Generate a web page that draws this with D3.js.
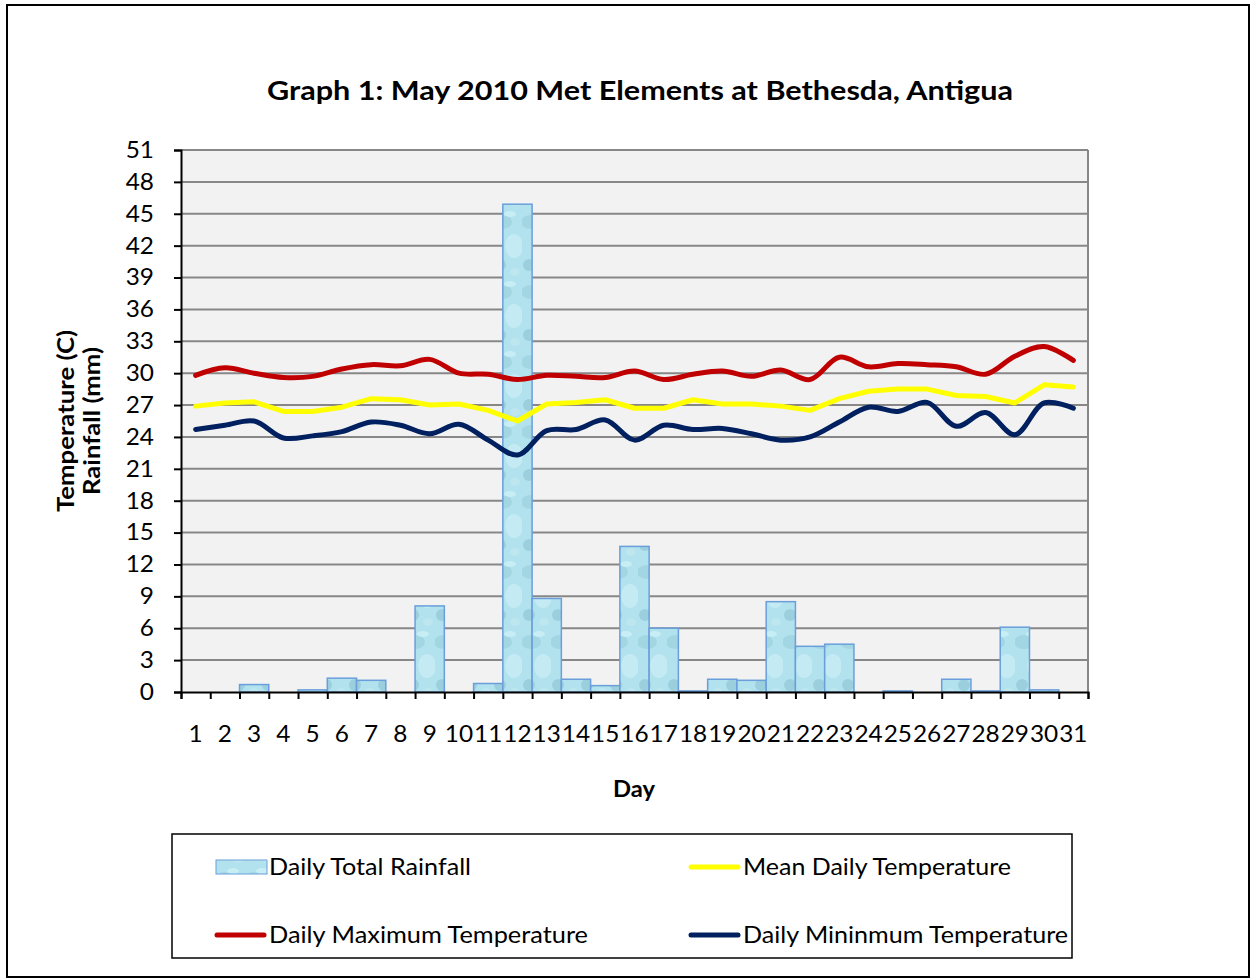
<!DOCTYPE html>
<html>
<head>
<meta charset="utf-8">
<script src="https://cdn.jsdelivr.net/npm/d3@7"></script>
<style>
  body { margin: 0; background: #fff; }
  text { font-family: Lato, "Open Sans", sans-serif; fill: #000; }
</style>
</head>
<body>
<div id="viz"></div>
<script>
const days = [1,2,3,4,5,6,7,8,9,10,11,12,13,14,15,16,17,18,19,20,21,22,23,24,25,26,27,28,29,30,31];

const rainfall = [0,0,0.7,0,0.2,1.3,1.1,0,8.1,0,0.8,45.9,8.8,1.2,0.6,13.7,6.0,0.1,1.2,1.1,8.5,4.3,4.5,0,0.1,0,1.2,0.1,6.1,0.2,0];

const maxTemp = [29.8,30.5,30.0,29.6,29.7,30.4,30.8,30.7,31.3,30.0,29.9,29.4,29.8,29.7,29.6,30.2,29.4,29.9,30.2,29.7,30.3,29.4,31.5,30.6,30.9,30.8,30.6,29.9,31.6,32.5,31.2];

const meanTemp = [26.9,27.2,27.3,26.4,26.4,26.8,27.6,27.5,27.0,27.1,26.5,25.5,27.1,27.25,27.5,26.7,26.7,27.5,27.1,27.1,26.9,26.5,27.6,28.3,28.5,28.5,27.9,27.8,27.2,28.9,28.7];

const minTemp = [24.7,25.1,25.5,23.9,24.1,24.5,25.4,25.1,24.3,25.2,23.7,22.3,24.6,24.7,25.6,23.7,25.1,24.7,24.8,24.3,23.7,24.0,25.4,26.8,26.4,27.25,25.0,26.3,24.2,27.2,26.7];

const yTicks = [0,3,6,9,12,15,18,21,24,27,30,33,36,39,42,45,48,51];

const W = 1255, H = 980;
const plotL = 181, plotR = 1088, plotT = 150, plotB = 692;

// the reference glyphs are a bit wider than Lato's
function stretch(sel, factor) {
  sel.each(function () {
    const len = this.getComputedTextLength();
    d3.select(this).attr("textLength", len * factor).attr("lengthAdjust", "spacingAndGlyphs");
  });
}
function fitWidth(sel, width) {
  sel.attr("textLength", width).attr("lengthAdjust", "spacingAndGlyphs");
}

const svg = d3.select("#viz").append("svg")
  .attr("width", W).attr("height", H);

// bar texture
const defs = svg.append("defs");
const pat = defs.append("pattern")
  .attr("id", "water")
  .attr("patternUnits", "userSpaceOnUse")
  .attr("width", 29).attr("height", 70);
pat.append("rect").attr("width", 29).attr("height", 70).attr("fill", "#b2e2ed");
pat.append("ellipse").attr("cx", 9).attr("cy", 12).attr("rx", 10).attr("ry", 7).attr("fill", "#a3d6e3");
pat.append("ellipse").attr("cx", 21).attr("cy", 36).attr("rx", 9).attr("ry", 12).attr("fill", "#c4ebf3");
pat.append("ellipse").attr("cx", 7).attr("cy", 55).attr("rx", 6).attr("ry", 6).attr("fill", "#9ccfdd");
pat.append("ellipse").attr("cx", 22).attr("cy", 62).attr("rx", 5).attr("ry", 4).attr("fill", "#bde6ef");
pat.append("ellipse").attr("cx", 17).attr("cy", 4).attr("rx", 6).attr("ry", 3).attr("fill", "#c8eef5");

// outer border
svg.append("rect")
  .attr("x", 7).attr("y", 5).attr("width", 1242).attr("height", 972)
  .attr("fill", "none").attr("stroke", "#000").attr("stroke-width", 2);

const x = d3.scaleBand().domain(days).range([plotL, plotR]).padding(0);
const xEdge = d3.scaleLinear().domain([0, days.length]).range([plotL, plotR]);
const y = d3.scaleLinear().domain([0, 51]).range([plotB, plotT]);

// plot background
svg.append("rect")
  .attr("x", plotL).attr("y", plotT)
  .attr("width", plotR - plotL).attr("height", plotB - plotT)
  .attr("fill", "#f2f2f2");

// gridlines
svg.append("g").selectAll("line")
  .data(yTicks.filter(d => d > 0))
  .join("line")
  .attr("x1", plotL).attr("x2", plotR)
  .attr("y1", d => y(d)).attr("y2", d => y(d))
  .attr("stroke", "#878787").attr("stroke-width", 2);

// right border
svg.append("line")
  .attr("x1", plotR).attr("x2", plotR).attr("y1", plotT).attr("y2", plotB)
  .attr("stroke", "#878787").attr("stroke-width", 2);

// bars
svg.append("g").selectAll("rect")
  .data(rainfall.map((v, i) => ({ day: days[i], v })).filter(d => d.v > 0))
  .join("rect")
  .attr("x", d => x(d.day))
  .attr("y", d => y(d.v))
  .attr("width", x.bandwidth())
  .attr("height", d => y(0) - y(d.v))
  .attr("fill", "url(#water)")
  .attr("stroke", "#6a9fdc").attr("stroke-width", 1.5);

// lines
const smooth = d3.line()
  .x((d, i) => x(days[i]) + x.bandwidth() / 2)
  .y(d => y(d))
  .curve(d3.curveCatmullRom.alpha(0.5));
const straight = d3.line()
  .x((d, i) => x(days[i]) + x.bandwidth() / 2)
  .y(d => y(d));

svg.append("path").datum(meanTemp).attr("d", straight)
  .attr("fill", "none").attr("stroke", "#ffff00").attr("stroke-width", 5)
  .attr("stroke-linejoin", "round").attr("stroke-linecap", "round");
svg.append("path").datum(maxTemp).attr("d", smooth)
  .attr("fill", "none").attr("stroke", "#c00000").attr("stroke-width", 5)
  .attr("stroke-linecap", "round");
svg.append("path").datum(minTemp).attr("d", smooth)
  .attr("fill", "none").attr("stroke", "#002060").attr("stroke-width", 5)
  .attr("stroke-linecap", "round");

// y axis
const yAxis = svg.append("g")
  .attr("transform", `translate(${plotL},0)`)
  .call(d3.axisLeft(y).tickValues(yTicks).tickSize(7).tickPadding(20));
yAxis.select(".domain").attr("stroke", "#000").attr("stroke-width", 2);
yAxis.selectAll(".tick line").attr("stroke", "#000").attr("stroke-width", 2);
yAxis.selectAll(".tick text")
  .style("font-family", "Lato, sans-serif").style("font-size", "23px").attr("fill", "#000")
  .call(stretch, 1.06);

// x axis: tick marks at category edges
const xTicks = svg.append("g")
  .attr("transform", `translate(0,${plotB})`)
  .call(d3.axisBottom(xEdge).tickValues(d3.range(0, days.length + 1)).tickSize(7).tickFormat(""));
xTicks.select(".domain").attr("stroke", "#000").attr("stroke-width", 2);
xTicks.selectAll(".tick line").attr("stroke", "#000").attr("stroke-width", 2);

// x labels
const xLabels = svg.append("g")
  .attr("transform", `translate(0,${plotB})`)
  .call(d3.axisBottom(x).tickSize(0).tickPadding(34));
xLabels.select(".domain").remove();
xLabels.selectAll(".tick text")
  .style("font-family", "Lato, sans-serif").style("font-size", "23px").attr("fill", "#000")
  .call(stretch, 1.06);

// title
svg.append("text")
  .attr("x", 640).attr("y", 100)
  .attr("text-anchor", "middle")
  .style("font-size", "26px").style("font-weight", "bold")
  .text("Graph 1: May 2010 Met Elements at Bethesda, Antigua")
  .call(fitWidth, 746);

// axis titles
svg.append("text")
  .attr("transform", "translate(74,421) rotate(-90)")
  .attr("text-anchor", "middle")
  .style("font-size", "22px").style("font-weight", "bold")
  .text("Temperature (C)")
  .call(fitWidth, 182);
svg.append("text")
  .attr("transform", "translate(100,421) rotate(-90)")
  .attr("text-anchor", "middle")
  .style("font-size", "22px").style("font-weight", "bold")
  .text("Rainfall (mm)")
  .call(fitWidth, 148);
svg.append("text")
  .attr("x", 634).attr("y", 797)
  .attr("text-anchor", "middle")
  .style("font-size", "22px").style("font-weight", "bold")
  .text("Day")
  .call(fitWidth, 42);

// legend
svg.append("rect")
  .attr("x", 172).attr("y", 834).attr("width", 900).attr("height", 124)
  .attr("fill", "#fff").attr("stroke", "#000").attr("stroke-width", 1.5);

const legendItems = [
  { label: "Daily Total Rainfall", type: "bar", color: "url(#water)", lx: 216, ly: 867, w: 202 },
  { label: "Mean Daily Temperature", type: "line", color: "#ffff00", lx: 690, ly: 867, w: 268 },
  { label: "Daily Maximum Temperature", type: "line", color: "#c00000", lx: 216, ly: 935, w: 319 },
  { label: "Daily Mininmum Temperature", type: "line", color: "#002060", lx: 690, ly: 935, w: 325 }
];
const lg = svg.append("g").selectAll("g").data(legendItems).join("g")
  .attr("transform", d => `translate(${d.lx},${d.ly})`);
lg.filter(d => d.type === "bar").append("rect")
  .attr("x", 0).attr("y", -7).attr("width", 51).attr("height", 14)
  .attr("fill", d => d.color).attr("stroke", "#6a9fdc").attr("stroke-width", 1);
lg.filter(d => d.type === "line").append("line")
  .attr("x1", 1).attr("x2", 48).attr("y1", 0).attr("y2", 0)
  .attr("stroke", d => d.color).attr("stroke-width", 5).attr("stroke-linecap", "round");
lg.append("text")
  .attr("x", 53).attr("y", 8)
  .style("font-size", "23px")
  .text(d => d.label)
  .attr("textLength", d => d.w).attr("lengthAdjust", "spacingAndGlyphs");
</script>
</body>
</html>
